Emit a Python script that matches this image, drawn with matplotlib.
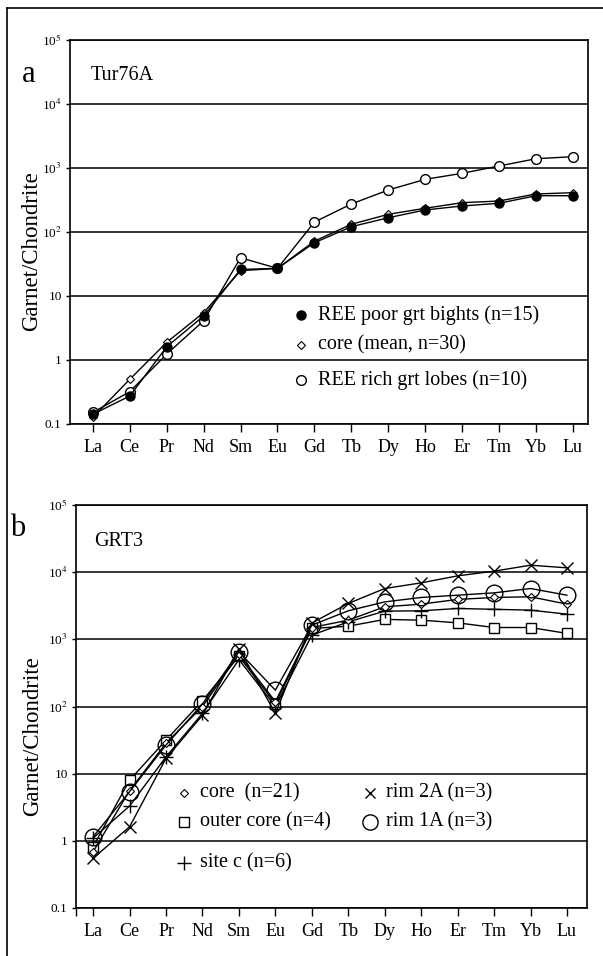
import matplotlib
matplotlib.use("Agg")
import matplotlib.pyplot as plt
from matplotlib.lines import Line2D

plt.rcParams["font.family"] = ["Liberation Serif", "DejaVu Serif"]
plt.rcParams["mathtext.fontset"] = "stix"

elements = ["La", "Ce", "Pr", "Nd", "Sm", "Eu", "Gd",
            "Tb", "Dy", "Ho", "Er", "Tm", "Yb", "Lu"]
ytick_vals = [0.1, 1, 10, 1e2, 1e3, 1e4, 1e5]
ytick_labels = ["0.1", "1", "10", "10$^{2}$", "10$^{3}$", "10$^{4}$", "10$^{5}$"]

# panel a - Tur76A
a_poor = [0.142, 0.274, 1.61, 4.87, 26, 27, 68, 121, 167, 221, 255, 281, 369, 369]
a_core = [0.127, 0.50, 1.89, 5.5, 24.9, 27, 72, 132, 189, 235, 287, 305, 393, 411]
a_rich = [0.152, 0.32, 1.24, 4.1, 39.6, 27, 143, 274, 453, 665, 826, 1075, 1396, 1503]

# panel b - GRT3
b_core = [0.69, 5.6, 28.5, 100, 600, 118, 1500, 1930, 3050, 3340, 3930, 4200, 4300, 3340]
b_outer = [0.82, 8.0, 31.6, 122, 560, 110, 1450, 1570, 1980, 1930, 1760, 1500, 1500, 1225]
b_site = [1.1, 3.3, 17.8, 79, 500, 100, 1155, 1820, 2630, 2660, 2880, 2800, 2720, 2370]
b_rim2 = [0.55, 1.62, 16.9, 74, 730, 79, 1750, 3420, 5710, 6930, 8810, 10350, 12700, 11600]
b_rim1 = [1.15, 5.4, 26.7, 109, 651, 175, 1625, 2660, 3610, 4200, 4540, 4920, 5710, 4540]

W, H = 603, 956
fig = plt.figure(figsize=(W / 100, H / 100), dpi=100)


def px_axes(left, top, right, bottom):
    return fig.add_axes([left / W, 1 - bottom / H, (right - left) / W, (bottom - top) / H])


def setup(ax, xlim):
    ax.set_yscale("log")
    ax.set_ylim(0.1, 1e5)
    ax.set_xlim(*xlim)
    for v in ytick_vals:
        ax.axhline(v, color="black", lw=1.1, zorder=1)
    ax.set_yticks(ytick_vals)
    ax.set_yticklabels(ytick_labels, fontsize=9.5)
    ax.yaxis.set_minor_locator(matplotlib.ticker.NullLocator())
    ax.tick_params(axis="y", length=3, width=1, pad=3)
    ax.set_xticks(range(len(elements)))
    ax.set_xticklabels(elements, fontsize=13)
    ax.tick_params(axis="x", length=6, width=1, pad=5, direction="out")
    for s in ax.spines.values():
        s.set_linewidth(1.2)
    ax.set_ylabel("Garnet/Chondrite", fontsize=16.5, va="center")


def key(ax, x, y, label, **style):
    ax.plot([x], [y], transform=ax.transAxes, color="black", ls="none",
            clip_on=False, **style)
    ax.text(x + 0.032, y, label, transform=ax.transAxes, fontsize=14.5,
            va="center", ha="left")


x = range(len(elements))

# ---- panel a
ax1 = px_axes(70, 40, 588, 424)
setup(ax1, (-0.62, 13.41))
ax1.yaxis.set_label_coords(-0.075, 0.45)
ax1.plot(x, a_core, color="black", lw=1, marker="D", ms=4, mfc="white", mec="black", mew=0.8, zorder=3)
ax1.plot(x, a_poor, color="black", lw=1, marker="o", ms=6.5, mfc="black", mec="black", zorder=4)
ax1.plot(x, a_rich, color="black", lw=1, marker="o", ms=7, mfc="white", mec="black", mew=1, zorder=3)

key(ax1, 0.446, 0.284, "REE poor grt bights (n=15)", marker="o", ms=6.5, mfc="black")
key(ax1, 0.446, 0.206, "core (mean, n=30)", marker="D", ms=4, mfc="white", mew=0.8)
key(ax1, 0.446, 0.115, "REE rich grt lobes (n=10)", marker="o", ms=7, mfc="white", mew=1)

# ---- panel b
ax2 = px_axes(76, 505, 587, 908)
setup(ax2, (-0.47, 13.55))
ax2.set_xticks([-0.47], minor=True)
ax2.tick_params(axis="x", which="minor", length=6, width=1, direction="out")
ax2.yaxis.set_label_coords(-0.084, 0.427)
ax2.plot(x, b_outer, color="black", lw=1, marker="s", ms=7, mfc="white", mec="black", mew=1, zorder=3)
ax2.plot(x, b_site, color="black", lw=1, marker="+", ms=10, mec="black", mew=1, zorder=3)
ax2.plot(x, b_core, color="black", lw=1, marker="D", ms=4, mfc="white", mec="black", mew=0.8, zorder=3)
ax2.plot(x, b_rim2, color="black", lw=1, marker="x", ms=8, mec="black", mew=1, zorder=3)
ax2.plot(x, b_rim1, color="black", lw=1, marker="o", ms=12, mfc="none", mec="black", mew=1, zorder=3)

key(ax2, 0.211, 0.285, "core  (n=21)", marker="D", ms=4, mfc="white", mew=0.8)
key(ax2, 0.211, 0.213, "outer core (n=4)", marker="s", ms=7, mfc="white", mew=1)
key(ax2, 0.211, 0.112, "site c (n=6)", marker="+", ms=10, mew=1)
key(ax2, 0.575, 0.285, "rim 2A (n=3)", marker="x", ms=7, mew=1)
key(ax2, 0.575, 0.213, "rim 1A (n=3)", marker="o", ms=11, mfc="none", mew=1)

# panel letters and sample names
fig.text(29 / W, 1 - 75 / H, "a", fontsize=22, ha="center", va="center")
fig.text(91 / W, 1 - 76 / H, "Tur76A", fontsize=14.5, ha="left", va="center")
fig.text(18 / W, 1 - 529 / H, "b", fontsize=22, ha="center", va="center")
fig.text(94 / W, 1 - 542 / H, "GRT3", fontsize=14.5, ha="left", va="center")

# outer frame (top and left edges)
fig.add_artist(Line2D([7 / W, 1], [1 - 8 / H, 1 - 8 / H], color="black", lw=1.2))
fig.add_artist(Line2D([7 / W, 7 / W], [1 - 8 / H, 0], color="black", lw=1.2))

fig.savefig("out.png", dpi=100)
